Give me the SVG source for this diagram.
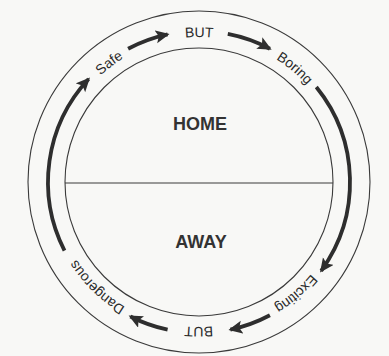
<svg xmlns="http://www.w3.org/2000/svg" width="389" height="356" viewBox="0 0 389 356">
  <style>
    .ring { fill: none; stroke: #3a3a3a; stroke-width: 1.1; }
    .arrow { fill: none; stroke: #2e2e2e; stroke-width: 3.8; stroke-linecap: butt; marker-end: url(#head); }
    .lbl { font-family: "Liberation Sans", Arial, sans-serif; font-size: 14px; fill: #2a2a2a; text-anchor: middle; }
    .big { font-family: "Liberation Sans", Arial, sans-serif; font-size: 18px; font-weight: bold; fill: #333; text-anchor: middle; }
  </style>
  <defs>
    <marker id="head" markerUnits="userSpaceOnUse" markerWidth="16" markerHeight="14" refX="12" refY="6.5" orient="auto">
      <path d="M0,0 L14,6.5 L0,13 L3,6.5 Z" fill="#2e2e2e"/>
    </marker>
    <path id="tp" d="M54,182 A145,145 0 1 1 344,182 A145,145 0 1 1 54,182"/>
  </defs>
  <rect width="389" height="356" fill="#f8f8f6"/>

  <g id="frame">
    <circle class="ring" cx="199" cy="182" r="171"/>
    <circle class="ring" cx="199" cy="182" r="134"/>
    <line class="ring" x1="65" y1="183" x2="333" y2="183"/>
  </g>

  <g id="connectors">
    <path class="arrow" d="M128.1,48.7 A151,151 0 0 1 167.6,34.3"/>
    <path class="arrow" d="M227.8,33.8 A151,151 0 0 1 269.9,48.7"/>
    <path class="arrow" d="M316.3,87.0 A151,151 0 0 1 321.2,270.8"/>
    <path class="arrow" d="M269.9,315.3 A151,151 0 0 1 230.4,329.7"/>
    <path class="arrow" d="M167.6,329.7 A151,151 0 0 1 130.4,316.5"/>
    <path class="arrow" d="M64.5,250.6 A151,151 0 0 1 88.6,79.0"/>
  </g>

  <g id="home"><text class="big" x="200" y="130">HOME</text></g>
  <g id="away"><text class="big" x="201" y="248">AWAY</text></g>

  <g id="safe"><text class="lbl"><textPath href="#tp" startOffset="134">Safe</textPath></text></g>
  <g id="but-top"><text class="lbl"><textPath href="#tp" startOffset="227.8">BUT</textPath></text></g>
  <g id="boring"><text class="lbl"><textPath href="#tp" startOffset="329">Boring</textPath></text></g>
  <g id="exciting"><text class="lbl"><textPath href="#tp" startOffset="579.5">Exciting</textPath></text></g>
  <g id="but-bottom"><text class="lbl"><textPath href="#tp" startOffset="683.3">BUT</textPath></text></g>
  <g id="dangerous"><text class="lbl"><textPath href="#tp" startOffset="794.7">Dangerous</textPath></text></g>
</svg>
